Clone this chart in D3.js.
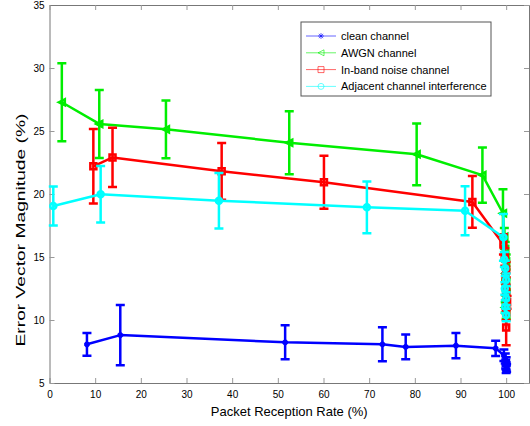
<!DOCTYPE html>
<html>
<head>
<meta charset="utf-8">
<script src="https://cdnjs.cloudflare.com/ajax/libs/d3/7.8.5/d3.min.js"></script>
<style>
body { margin: 0; background: #fff; }
text { font-family: "Liberation Sans", Arial, Helvetica, sans-serif; }
</style>
</head>
<body>
<div id="chart"></div>
<script>
// values
var seriesNames = ["clean channel", "AWGN channel", "In-band noise channel", "Adjacent channel interference"];
var seriesColors = ["#0000ff", "#00ee00", "#ff0000", "#00ffff"];
var seriesMarkers = ["star", "triangle", "square", "circle"];

var cleanX   = [8.2, 15.5, 51.6, 72.9, 78.0, 89.0, 97.7, 99.5, 99.8, 100, 99.9, 100, 100.1, 100];
var cleanY   = [8.07, 8.8, 8.23, 8.07, 7.86, 7.96, 7.75, 7.2, 6.95, 6.7, 6.5, 6.35, 6.2, 6.1];
var cleanErr = [0.9, 2.4, 1.35, 1.35, 0.98, 1.0, 0.6, 0.45, 0.4, 0.35, 0.35, 0.3, 0.3, 0.3];

var awgnX   = [2.7, 10.9, 25.5, 52.5, 80.4, 94.8, 99.3, 99.6, 99.8, 100, 99.9, 100, 100, 99.8, 100];
var awgnY   = [27.28, 25.56, 25.13, 24.07, 23.15, 21.5, 18.47, 16.6, 15.6, 14.6, 13.7, 12.8, 11.9, 11.0, 10.5];
var awgnErr = [3.1, 2.7, 2.3, 2.5, 2.45, 2.2, 1.9, 0.7, 0.6, 0.6, 0.5, 0.5, 0.5, 0.4, 0.4];

var inbandX   = [9.6, 13.8, 37.7, 60.1, 92.6, 99.4, 99.7, 100, 99.9, 100, 100.2, 100, 100];
var inbandY   = [22.2, 22.9, 21.8, 20.93, 19.37, 16.0, 15.0, 14.0, 13.1, 12.2, 11.4, 10.6, 9.4];
var inbandErr = [2.95, 2.35, 2.25, 2.1, 2.05, 0.8, 0.7, 0.6, 0.6, 0.6, 0.5, 0.6, 1.4];

var adjX   = [0.83, 11.2, 37.1, 69.5, 91.0, 99.4, 99.6, 99.8, 100, 99.7, 100, 99.8, 100];
var adjY   = [19.05, 19.98, 19.47, 18.94, 18.67, 16.56, 14.8, 14.1, 13.2, 12.5, 11.7, 11.06, 10.4];
var adjErr = [1.55, 2.25, 2.2, 2.05, 1.95, 1.85, 0.6, 0.6, 0.5, 0.5, 0.5, 0.5, 0.5];

var xTicks = [0, 10, 20, 30, 40, 50, 60, 70, 80, 90, 100];
var yTicks = [5, 10, 15, 20, 25, 30, 35];
var xLabel = "Packet Reception Rate (%)";
var yLabel = "Error Vector Magnitude (%)";

var allSeries = [
    { x: cleanX, y: cleanY, err: cleanErr },
    { x: awgnX, y: awgnY, err: awgnErr },
    { x: inbandX, y: inbandY, err: inbandErr },
    { x: adjX, y: adjY, err: adjErr }
];

ErrorBarChart = function(_parentElement, _series) {
    this.parentElement = _parentElement;
    this.series = _series;
    this.margin = { top: 5, right: 1, bottom: 43, left: 49.5 };
    this.width = 530 - this.margin.left - this.margin.right;
    this.height = 426 - this.margin.top - this.margin.bottom;
    this.initVis();
};

ErrorBarChart.prototype.initVis = function() {
    var vis = this;
    vis.svg = d3.select("#" + vis.parentElement).append("svg")
        .attr("width", 530)
        .attr("height", 426)
        .append("g")
        .attr("transform", "translate(" + vis.margin.left + "," + vis.margin.top + ")");

    vis.x = d3.scaleLinear().domain([0, 105]).range([0, vis.width]);
    vis.y = d3.scaleLinear().domain([5, 35]).range([vis.height, 0]);

    vis.drawAxes();
    vis.drawSeries();
    vis.drawLegend();
};

ErrorBarChart.prototype.drawAxes = function() {
    var vis = this;
    var axisColor = "#777";

    var bottom = vis.svg.append("g")
        .attr("transform", "translate(0," + vis.height + ")")
        .call(d3.axisBottom(vis.x).tickValues(xTicks).tickSizeInner(-5).tickSizeOuter(0).tickPadding(8));
    var left = vis.svg.append("g")
        .call(d3.axisLeft(vis.y).tickValues(yTicks).tickSizeInner(-5).tickSizeOuter(0).tickPadding(5));
    var top = vis.svg.append("g")
        .call(d3.axisTop(vis.x).tickValues(xTicks).tickSizeInner(-5).tickSizeOuter(0).tickFormat(""));
    var right = vis.svg.append("g")
        .attr("transform", "translate(" + vis.width + ",0)")
        .call(d3.axisRight(vis.y).tickValues(yTicks).tickSizeInner(-5).tickSizeOuter(0).tickFormat(""));

    [bottom, left, top, right].forEach(function(g) {
        g.select(".domain").attr("stroke", axisColor);
        g.selectAll(".tick line").attr("stroke", "#999");
        g.selectAll(".tick text").attr("fill", "#000").style("font-size", "10px");
    });

    vis.svg.append("text")
        .attr("x", vis.width / 2)
        .attr("y", vis.height + 33)
        .attr("text-anchor", "middle")
        .style("font-size", "13px")
        .text(xLabel);

    // the y label in the original is stretched along its length,
    // running from about y=7.9 up to y=26.4 on the value scale
    var yStart = vis.y(7.9), yEnd = vis.y(26.4);
    var ylab = vis.svg.append("text")
        .attr("text-anchor", "start")
        .style("font-size", "13px")
        .text(yLabel);
    var natural = ylab.node().getComputedTextLength();
    var sx = (yStart - yEnd) / natural;
    ylab.attr("transform", "translate(" + (25 - vis.margin.left) + "," + yStart + ") rotate(-90) scale(" + sx + ",1)");
};

ErrorBarChart.prototype.markerPath = function(type, r) {
    if (type == "star") {
        var k = r * 0.72;
        return "M" + (-r) + ",0L" + r + ",0M0," + (-r) + "L0," + r +
            "M" + (-k) + "," + (-k) + "L" + k + "," + k + "M" + (-k) + "," + k + "L" + k + "," + (-k);
    }
    if (type == "triangle") {
        return "M" + (-r) + ",0L" + r + "," + (-r) + "L" + r + "," + r + "Z";
    }
    if (type == "square") {
        return "M" + (-r) + "," + (-r) + "H" + r + "V" + r + "H" + (-r) + "Z";
    }
    return "M" + r + ",0A" + r + "," + r + " 0 1,1 " + (-r) + ",0A" + r + "," + r + " 0 1,1 " + r + ",0Z";
};

ErrorBarChart.prototype.drawSeries = function() {
    var vis = this;
    var line = d3.line()
        .x(function(d) { return vis.x(d.x); })
        .y(function(d) { return vis.y(d.y); });
    var cap = 4.5;

    vis.series.forEach(function(s, i) {
        var pts = s.x.map(function(v, j) { return { x: v, y: s.y[j], err: s.err[j] }; });
        var color = seriesColors[i];
        var g = vis.svg.append("g").attr("class", "series");

        g.append("path")
            .attr("d", line(pts))
            .attr("fill", "none")
            .attr("stroke", color)
            .attr("stroke-width", 2.5)
            .attr("stroke-linejoin", "round");

        g.selectAll(".bar").data(pts).enter().append("path")
            .attr("class", "bar")
            .attr("fill", "none")
            .attr("stroke", color)
            .attr("stroke-width", 2.5)
            .attr("d", function(d) {
                var px = vis.x(d.x), y0 = vis.y(d.y - d.err), y1 = vis.y(d.y + d.err);
                return "M" + px + "," + y0 + "V" + y1 +
                    "M" + (px - cap) + "," + y1 + "H" + (px + cap) +
                    "M" + (px - cap) + "," + y0 + "H" + (px + cap);
            });

        g.selectAll(".mark").data(pts).enter().append("path")
            .attr("class", "mark")
            .attr("transform", function(d) { return "translate(" + vis.x(d.x) + "," + vis.y(d.y) + ")"; })
            .attr("d", vis.markerPath(seriesMarkers[i], i == 0 ? 2.8 : 3))
            .attr("fill", "none")
            .attr("stroke", color)
            .attr("stroke-width", 2.5);
    });
};

ErrorBarChart.prototype.drawLegend = function() {
    var vis = this;
    var lx = 301 - vis.margin.left, ly = 22 - vis.margin.top;
    var legend = vis.svg.append("g").attr("transform", "translate(" + lx + "," + ly + ")");

    legend.append("rect")
        .attr("width", 190)
        .attr("height", 74)
        .attr("fill", "#fff")
        .attr("stroke", "#555")
        .attr("stroke-width", 1);

    seriesNames.forEach(function(name, i) {
        var ry = 14 + i * 16.8;
        legend.append("line")
            .attr("x1", 5).attr("x2", 35)
            .attr("y1", ry).attr("y2", ry)
            .attr("stroke", seriesColors[i])
            .attr("stroke-opacity", 0.6)
            .attr("stroke-width", 1);
        legend.append("path")
            .attr("transform", "translate(20," + ry + ")")
            .attr("d", vis.markerPath(seriesMarkers[i], 3))
            .attr("fill", "none")
            .attr("stroke", seriesColors[i])
            .attr("stroke-opacity", 0.6)
            .attr("stroke-width", 1);
        legend.append("text")
            .attr("x", 40)
            .attr("y", ry + 4)
            .style("font-size", "11px")
            .text(name);
    });
};

new ErrorBarChart("chart", allSeries);
</script>
</body>
</html>
